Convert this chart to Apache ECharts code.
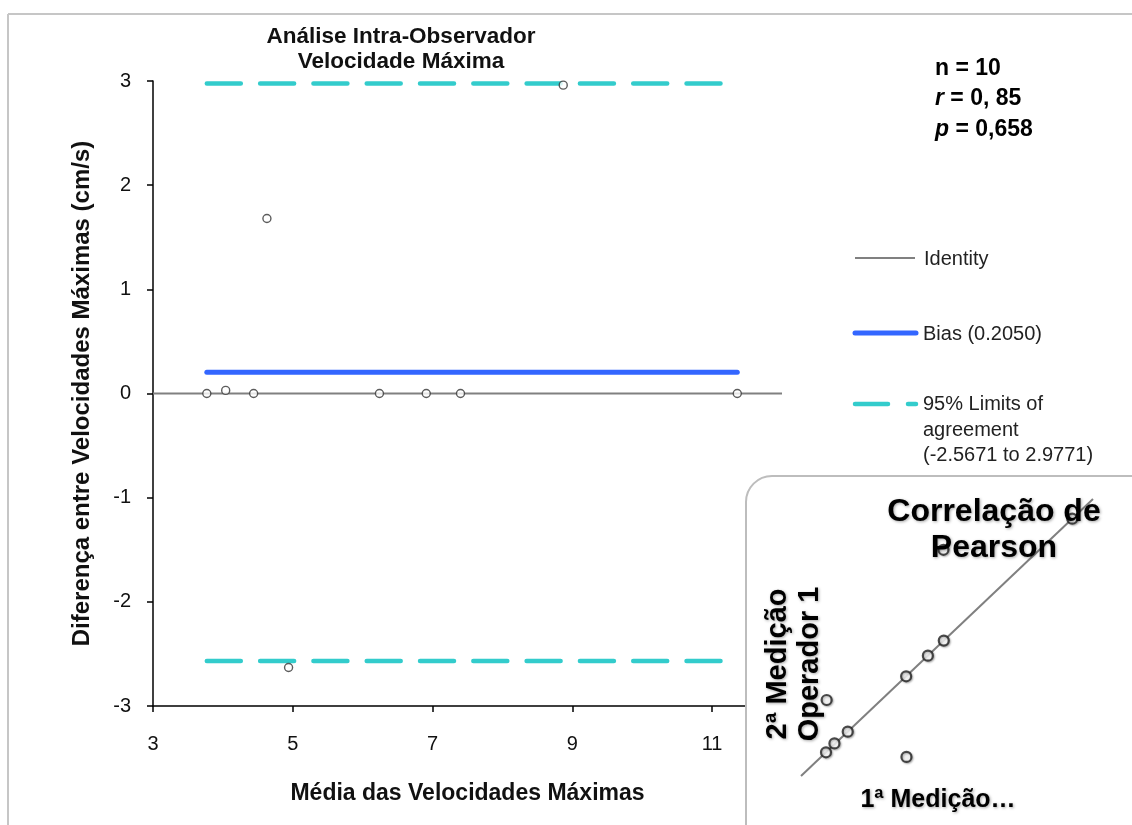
<!DOCTYPE html>
<html>
<head>
<meta charset="utf-8">
<script src="https://cdn.jsdelivr.net/npm/echarts@6/dist/echarts.min.js"></script>
<style>
html,body{margin:0;padding:0;background:#fff;}
#chart{width:1132px;height:825px;}
</style>
</head>
<body>
<div id="chart"></div>
<script>
// Bland-Altman data (mean of measurements, difference 2nd - 1st)
const baMean = [3.77, 4.04, 4.44, 6.24, 6.91, 7.40, 11.36, 4.63, 4.94, 8.87];
const baDiff = [0, 0.03, 0, 0, 0, 0, 0, 1.68, -2.63, 2.96];
// Pearson inset data
const firstMeasure = [3.77, 4.03, 4.44, 6.24, 6.91, 7.40, 11.36, 3.79, 6.25, 7.39];
const secondMeasure = [3.77, 4.06, 4.44, 6.24, 6.91, 7.40, 11.36, 5.47, 3.62, 10.35];
// Reference lines
const biasValue = 0.2050;
const lowerLimit = -2.5671;
const upperLimit = 2.9771;
const lineRange = [3.77, 11.36];
const identityRange = [3, 12];
const insetIdentity = [3, 12];
// Axis ticks
const xTicks = [3, 5, 7, 9, 11];
const yTicks = [-3, -2, -1, 0, 1, 2, 3];
// Texts
const titleLines = ['Análise Intra-Observador', 'Velocidade Máxima'];
const xName = 'Média das Velocidades Máximas';
const yName = 'Diferença entre Velocidades Máximas (cm/s)';
const legendLabels = ['Identity', 'Bias (0.2050)', '95% Limits of\nagreement\n(-2.5671 to 2.9771)'];
const statN = '10', statR = '0, 85', statP = '0,658';

const FONT = 'Liberation Sans, Arial, sans-serif';
const CYAN = '#33cccc';
const BLUE = '#3366ff';
const GRAY = '#808080';
const SHADOW = {textShadowBlur: 3, textShadowColor: 'rgba(0,0,0,0.35)', textShadowOffsetX: 1, textShadowOffsetY: 1};

const chart = echarts.init(document.getElementById('chart'), null, {renderer: 'canvas'});

const pts = baMean.map((m, i) => [m, baDiff[i]]);
const insetPts = firstMeasure.map((v, i) => [v, secondMeasure[i]]);

const option = {
  backgroundColor: '#fff',
  animation: false,
  grid: [
    {left: 153, right: 350, top: 81, bottom: 119},
    {left: 801, right: 39, top: 499, bottom: 49}
  ],
  xAxis: [{
    gridIndex: 0, type: 'value', min: xTicks[0], max: identityRange[1], interval: 2,
    name: xName, nameLocation: 'middle', nameGap: 76,
    nameTextStyle: {fontFamily: FONT, fontWeight: 'bold', fontSize: 23, color: '#111'},
    axisLine: {onZero: false, lineStyle: {color: '#000', width: 1.5}},
    axisTick: {show: true, length: 6, lineStyle: {color: '#000', width: 1.5}},
    axisLabel: {showMaxLabel: false, margin: 28, fontFamily: FONT, fontSize: 20, color: '#111',
      formatter: v => xTicks.includes(v) ? String(v) : ''},
    splitLine: {show: false}
  }, {
    gridIndex: 1, type: 'value', min: insetIdentity[0], max: insetIdentity[1], show: false
  }],
  yAxis: [{
    gridIndex: 0, type: 'value', min: yTicks[0], max: yTicks[yTicks.length - 1], interval: 1,
    name: yName, nameLocation: 'middle', nameGap: 59, nameRotate: 90,
    nameTextStyle: {fontFamily: FONT, fontWeight: 'bold', fontSize: 24, color: '#111'},
    axisLine: {onZero: false, lineStyle: {color: '#000', width: 1.5}},
    axisTick: {show: true, length: 6, lineStyle: {color: '#000', width: 1.5}},
    axisLabel: {margin: 22, fontFamily: FONT, fontSize: 20, color: '#111'},
    splitLine: {show: false}
  }, {
    gridIndex: 1, type: 'value', min: insetIdentity[0], max: insetIdentity[1], show: false
  }],
  series: [
    {type: 'line', xAxisIndex: 0, yAxisIndex: 0, symbol: 'none', z: 2,
      data: [[identityRange[0], 0], [identityRange[1], 0]],
      lineStyle: {color: GRAY, width: 2}},
    {type: 'line', xAxisIndex: 0, yAxisIndex: 0, symbol: 'none', z: 3,
      data: [[lineRange[0], biasValue], [lineRange[1], biasValue]],
      lineStyle: {color: BLUE, width: 5, cap: 'round'}},
    {type: 'line', xAxisIndex: 0, yAxisIndex: 0, symbol: 'none', z: 3,
      data: [[lineRange[0], upperLimit], [lineRange[1], upperLimit]],
      lineStyle: {color: CYAN, width: 4.5, cap: 'round', type: [34, 19.3]}},
    {type: 'line', xAxisIndex: 0, yAxisIndex: 0, symbol: 'none', z: 3,
      data: [[lineRange[0], lowerLimit], [lineRange[1], lowerLimit]],
      lineStyle: {color: CYAN, width: 4.5, cap: 'round', type: [34, 19.3]}},
    {type: 'scatter', xAxisIndex: 0, yAxisIndex: 0, z: 5, data: pts, symbol: 'circle', symbolSize: 8,
      itemStyle: {color: '#fff', borderColor: '#333', borderWidth: 1.4}},
    // inset
    {type: 'line', xAxisIndex: 1, yAxisIndex: 1, symbol: 'none', z: 20,
      data: [[insetIdentity[0], insetIdentity[0]], [insetIdentity[1], insetIdentity[1]]],
      lineStyle: {color: GRAY, width: 2}},
    {type: 'scatter', xAxisIndex: 1, yAxisIndex: 1, z: 21, data: insetPts, symbol: 'circle', symbolSize: 10,
      itemStyle: {color: '#fff', borderColor: '#222', borderWidth: 2.2,
        shadowBlur: 2, shadowColor: 'rgba(0,0,0,0.35)', shadowOffsetX: 1, shadowOffsetY: 1}}
  ],
  graphic: [
    // frame
    {type: 'line', z: 1, shape: {x1: 8, y1: 14, x2: 1132, y2: 14}, style: {stroke: '#c6c6c6', lineWidth: 2}},
    {type: 'line', z: 1, shape: {x1: 8, y1: 14, x2: 8, y2: 825}, style: {stroke: '#c6c6c6', lineWidth: 2}},
    // title
    {type: 'text', z: 10, x: 401, y: 49, style: {
      text: titleLines.join('\n'), align: 'center', verticalAlign: 'middle',
      font: 'bold 22.5px ' + FONT, fill: '#111', lineHeight: 25}},
    // stats
    {type: 'text', z: 10, x: 935, y: 53, style: {
      text: '{b|n = ' + statN + '}\n{i|r}{b| = ' + statR + '}\n{i|p}{b| = ' + statP + '}',
      rich: {
        b: {fontFamily: FONT, fontWeight: 'bold', fontSize: 23, fill: '#000', lineHeight: 30.5},
        i: {fontFamily: FONT, fontWeight: 'bold', fontStyle: 'italic', fontSize: 23, fill: '#000', lineHeight: 30.5}
      }}},
    // legend
    {type: 'line', z: 10, shape: {x1: 855, y1: 258, x2: 915, y2: 258}, style: {stroke: GRAY, lineWidth: 2}},
    {type: 'text', z: 10, x: 924, y: 259, style: {text: legendLabels[0], font: '20px ' + FONT, fill: '#222', verticalAlign: 'middle'}},
    {type: 'line', z: 10, shape: {x1: 855, y1: 333, x2: 916, y2: 333}, style: {stroke: BLUE, lineWidth: 5, lineCap: 'round'}},
    {type: 'text', z: 10, x: 923, y: 334, style: {text: legendLabels[1], font: '20px ' + FONT, fill: '#222', verticalAlign: 'middle'}},
    {type: 'line', z: 10, shape: {x1: 855, y1: 404, x2: 888, y2: 404}, style: {stroke: CYAN, lineWidth: 4.5, lineCap: 'round'}},
    {type: 'line', z: 10, shape: {x1: 908, y1: 404, x2: 916, y2: 404}, style: {stroke: CYAN, lineWidth: 4.5, lineCap: 'round'}},
    {type: 'text', z: 10, x: 923, y: 392, style: {text: legendLabels[2], font: '20px ' + FONT, fill: '#222', lineHeight: 25.5}},
    // inset box
    {type: 'rect', z: 15, shape: {x: 746, y: 476, width: 420, height: 400, r: 26},
      style: {fill: '#fff', stroke: '#bdbdbd', lineWidth: 2}},
    {type: 'text', z: 30, x: 994, y: 530, style: Object.assign({
      text: 'Correlação de\nPearson', align: 'center', verticalAlign: 'middle',
      font: 'bold 32px ' + FONT, fill: '#000', lineHeight: 36}, SHADOW)},
    {type: 'text', z: 30, x: 794, y: 664, rotation: Math.PI / 2, style: Object.assign({
      text: '2ª Medição\nOperador 1', align: 'center', verticalAlign: 'middle',
      font: 'bold 29px ' + FONT, fill: '#000', lineHeight: 32}, SHADOW)},
    {type: 'text', z: 30, x: 938, y: 800, style: Object.assign({
      text: '1ª Medição…', align: 'center', verticalAlign: 'middle',
      font: 'bold 25px ' + FONT, fill: '#000'}, SHADOW)}
  ]
};
chart.setOption(option);
</script>
</body>
</html>
